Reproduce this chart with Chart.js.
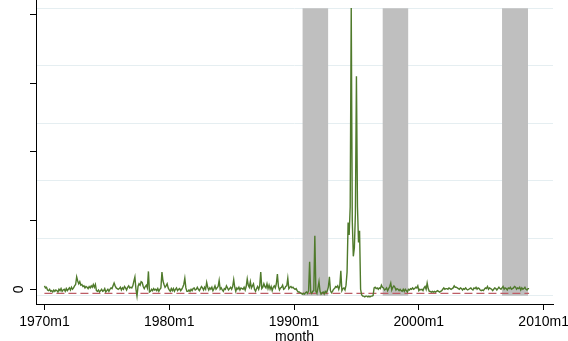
<!DOCTYPE html>
<html>
<head>
<meta charset="utf-8">
<script src="https://cdn.jsdelivr.net/npm/chart.js@4"></script>
<style>
html, body { margin: 0; padding: 0; background: #fff; }
canvas { display: block; }
</style>
</head>
<body>
<canvas id="chart" width="568" height="341"></canvas>
<script>
// monthly series, one row per year (index 0 = 1970m1)
const vals1970s = [
    0.05, 0.02, 0.03, -0.01, -0.02, 0.00, -0.03, -0.02, -0.04, -0.01, -0.03, -0.01,
    -0.02, -0.04, 0.00, -0.02, 0.01, -0.03, -0.01, 0.00, -0.03, 0.01, -0.02, 0.00,
    0.02, -0.01, 0.03, 0.00, 0.02, 0.05, 0.07, 0.18, 0.12, 0.08, 0.11, 0.06,
    0.07, 0.04, 0.05, 0.02, 0.04, 0.03, 0.01, 0.04, 0.02, 0.05, 0.03, 0.07,
    0.03, 0.07, -0.02, -0.03, -0.01, -0.04, -0.02, 0.00, -0.03, -0.02, 0.01, -0.04,
    -0.02, 0.00, -0.03, 0.00, 0.02, 0.01, 0.05, 0.09, 0.05, 0.02, 0.01, 0.00,
    0.01, 0.03, -0.01, 0.02, 0.00, 0.04, 0.02, -0.01, 0.03, 0.05, 0.02, 0.03,
    0.02, 0.05, 0.12, 0.18, 0.00, -0.10, 0.04, 0.08, 0.06, 0.11, 0.10, 0.04,
    0.01, 0.04, 0.06, 0.02, 0.26, -0.04, -0.03, 0.00, -0.02, 0.01, -0.01, 0.00,
    -0.02, 0.01, -0.03, 0.00, 0.02, 0.25, 0.12, 0.07, 0.03, 0.05, 0.08, 0.02
];
const vals1980s = [
    -0.01, -0.03, 0.01, -0.02, 0.01, -0.03, 0.00, 0.02, -0.02, 0.00, 0.01, -0.02,
    0.00, 0.03, 0.07, 0.16, 0.02, -0.03, -0.03, -0.01, -0.03, 0.00, -0.02, 0.01,
    0.02, -0.01, 0.00, 0.03, 0.00, -0.02, 0.01, 0.04, 0.02, -0.01, 0.03, 0.00,
    0.10, 0.03, -0.01, 0.02, 0.00, 0.03, -0.02, 0.01, 0.05, 0.00, 0.02, 0.04,
    0.13, 0.00, 0.02, -0.01, -0.03, 0.01, 0.00, 0.05, 0.02, -0.01, 0.01, 0.03,
    0.00, 0.04, 0.14, 0.03, -0.03, 0.02, 0.00, 0.03, -0.01, 0.02, 0.01, 0.00,
    0.03, -0.01, 0.04, 0.15, 0.06, 0.03, 0.11, 0.02, 0.05, 0.08, 0.00, -0.03,
    0.01, 0.04, 0.00, 0.05, 0.25, 0.01, 0.03, 0.08, 0.04, 0.02, 0.08, 0.01,
    0.06, 0.00, 0.04, -0.02, 0.03, 0.05, 0.02, 0.08, 0.22, 0.04, -0.01, 0.02,
    0.03, 0.06, 0.00, 0.01, 0.04, 0.05, 0.16, 0.01, 0.03, 0.04, 0.02, 0.03
];
const vals1990s = [
    0.01, 0.00, 0.01, -0.02, -0.04, -0.04, -0.05, -0.06, -0.07, -0.06, -0.07, -0.05,
    -0.04, -0.06, -0.02, 0.40, -0.04, -0.06, -0.03, -0.02, 0.78, -0.03, -0.06, 0.02,
    0.11, -0.03, -0.07, -0.05, -0.04, -0.07, -0.03, -0.05, -0.02, 0.03, 0.18, -0.02,
    -0.05, -0.03, 0.00, 0.01, 0.04, 0.03, 0.05, 0.00, 0.05, 0.27, -0.02, 0.01,
    0.02, -0.01, 0.06, 0.25, 0.97, 0.79, 1.20, 4.09, 1.00, 0.48, 0.60, 1.10,
    3.10, 1.20, 0.68, 0.85, 0.00, -0.08, -0.10, -0.10, -0.11, -0.10, -0.10, -0.11,
    -0.10, -0.11, -0.10, -0.10, -0.09, 0.02, 0.03, 0.01, 0.02, 0.00, 0.02, 0.01,
    0.06, 0.03, 0.02, -0.01, 0.00, 0.02, -0.02, 0.01, 0.04, 0.09, -0.01, 0.03,
    0.05, 0.03, -0.01, 0.01, 0.00, -0.02, 0.00, -0.02, -0.03, 0.00, -0.03, 0.00,
    -0.02, -0.04, 0.00, -0.01, 0.01, 0.00, 0.02, 0.00, 0.01, 0.03, 0.02, 0.05
];
const vals2000s = [
    -0.02, 0.00, -0.01, 0.00, -0.02, 0.02, 0.04, 0.00, 0.09, 0.01, -0.03, -0.03,
    -0.04, -0.03, -0.04, -0.03, -0.04, -0.03, -0.02, -0.03, -0.04, -0.03, -0.02, 0.00,
    0.02, 0.00, 0.01, 0.01, 0.00, 0.02, 0.01, 0.00, 0.01, 0.02, 0.05, 0.03,
    0.03, 0.02, 0.01, 0.00, 0.02, 0.01, -0.01, 0.01, 0.00, 0.02, 0.00, -0.01,
    0.00, 0.01, 0.02, 0.00, -0.01, 0.02, 0.01, 0.03, 0.00, 0.02, 0.01, -0.01,
    -0.02, -0.01, -0.02, 0.00, 0.02, 0.01, 0.04, 0.00, 0.02, 0.01, 0.00, -0.02,
    0.00, 0.02, 0.01, -0.01, 0.01, 0.03, 0.01, 0.00, 0.02, 0.04, 0.00, 0.02,
    0.01, -0.01, 0.02, 0.01, 0.03, 0.00, 0.01, 0.02, 0.04, 0.03, 0.00, 0.02,
    0.01, 0.03, -0.01, 0.02, 0.00, 0.01, 0.03, 0.00, -0.01, 0.01, 0.01
];
const seriesVals = vals1970s.concat(vals1980s, vals1990s, vals2000s);

// dashed reference level
const refLevel = -0.06;

// shaded periods, months since 1970m1
const shadeStart = [248, 325, 440];
const shadeEnd = [273, 350, 465];

const xTickVals = [0, 120, 240, 360, 480];
const xTickLabels = ['1970m1', '1980m1', '1990m1', '2000m1', '2010m1'];
const yTickVals = [0, 1, 2, 3, 4];
const shadeGrid = [0, 0.2, 0.4, 0.6, 0.8, 1];

Chart.defaults.font.family = '"Liberation Sans", Arial, Helvetica, sans-serif';
Chart.defaults.font.size = 14;
Chart.defaults.color = '#000';

const lastMonth = seriesVals.length - 1;

const datasets = [{
    label: 'series',
    data: seriesVals.map((v, i) => ({ x: i, y: v })),
    borderColor: '#4f7a2b',
    borderWidth: 1.4,
    pointRadius: 0,
    fill: false,
    order: 0,
    yAxisID: 'y'
}, {
    label: 'ref',
    data: [{ x: 0, y: refLevel }, { x: lastMonth, y: refLevel }],
    borderColor: '#bd5d66',
    borderWidth: 1.4,
    borderDash: [8, 4],
    pointRadius: 0,
    fill: false,
    order: 1,
    yAxisID: 'y'
}];

shadeStart.forEach((s, i) => {
    datasets.push({
        label: 'shade' + i,
        data: [{ x: s, y: 1 }, { x: shadeEnd[i], y: 1 }],
        borderWidth: 0,
        pointRadius: 0,
        backgroundColor: '#bfbfbf',
        fill: { value: 0 },
        order: 2,
        yAxisID: 'y2'
    });
});

const ctx = document.getElementById('chart').getContext('2d');

new Chart(ctx, {
    type: 'line',
    data: { datasets: datasets },
    options: {
        responsive: false,
        animation: false,
        layout: { padding: { left: 0, right: 15, top: 0, bottom: 0 } },
        plugins: {
            legend: { display: false },
            tooltip: { enabled: false }
        },
        scales: {
            x: {
                type: 'linear',
                min: -8.1,
                max: 489,
                afterBuildTicks: s => { s.ticks = xTickVals.map(v => ({ value: v })); },
                afterFit: s => { s.height = 37; s.paddingLeft = 0; s.paddingRight = 0; },
                ticks: {
                    callback: v => xTickLabels[xTickVals.indexOf(v)],
                    padding: 4,
                    minRotation: 0,
                    maxRotation: 0,
                    autoSkip: false
                },
                grid: { drawOnChartArea: false, drawTicks: true, tickLength: 6, color: '#000' },
                border: { display: true, color: '#000', width: 1 },
                title: {
                    display: true,
                    text: 'month',
                    font: { size: 14, lineHeight: 1 },
                    padding: { top: 0, bottom: -3 }
                }
            },
            y: {
                position: 'left',
                min: -0.214,
                max: 4.208,
                afterBuildTicks: s => { s.ticks = yTickVals.map(v => ({ value: v })); },
                afterFit: s => { s.width = 36; s.paddingTop = 0; s.paddingBottom = 0; },
                ticks: {
                    callback: v => (v === 0 ? '0' : ''),
                    minRotation: 90,
                    maxRotation: 90,
                    crossAlign: 'center',
                    padding: 7
                },
                grid: { drawOnChartArea: false, tickLength: 6, color: '#000' },
                border: { display: true, color: '#000', width: 1 }
            },
            y2: {
                position: 'right',
                min: -0.029,
                max: 1.029,
                afterBuildTicks: s => { s.ticks = shadeGrid.map(v => ({ value: v })); },
                afterFit: s => { s.width = 0; s.paddingTop = 0; s.paddingBottom = 0; },
                ticks: { display: false },
                grid: { drawTicks: false, color: '#e5eef1', lineWidth: 1 },
                border: { display: false }
            }
        }
    }
});
</script>
</body>
</html>
